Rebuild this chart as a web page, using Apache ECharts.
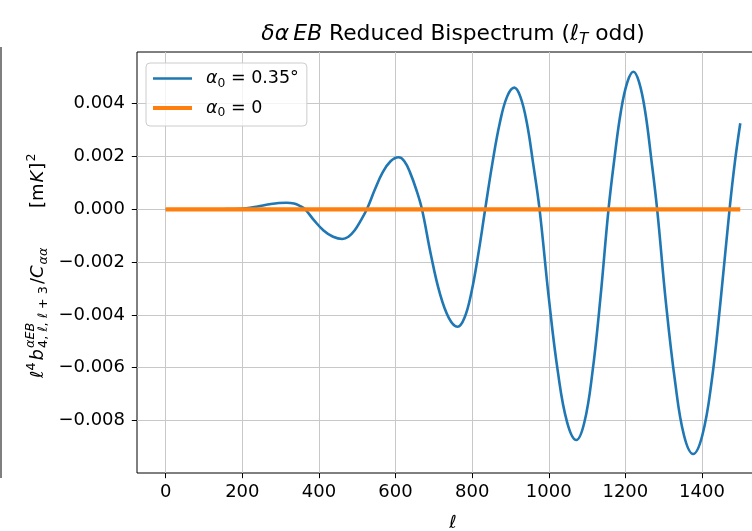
<!DOCTYPE html>
<html>
<head>
<meta charset="utf-8">
<script src="https://cdn.jsdelivr.net/npm/echarts@6/dist/echarts.min.js"></script>
<style>
html,body{margin:0;padding:0;background:#fff;}
#chart{width:752px;height:531px;}
</style>
</head>
<body>
<div id="chart"></div>
<script>
// ---- data ----
const ells = [0, 50, 100, 150, 180, 210, 240, 270, 295, 315, 335, 350, 364,
  388, 412, 437, 461, 477, 493, 509, 525,
  546, 566, 587, 608, 623, 638, 654, 669,
  692, 715, 739, 762, 780, 798, 816, 834,
  853, 872, 891, 910, 926, 943, 959, 976,
  1000, 1024, 1048, 1072, 1093, 1114, 1135, 1156,
  1172, 1188, 1205, 1221, 1236, 1252, 1267, 1283,
  1306, 1330, 1353, 1377, 1401, 1425, 1448, 1472, 1486, 1500];
const bisp035 = [0, 0, 0, 0.000005, 0.00001, 0.00004, 0.00011, 0.00019, 0.00024, 0.00025, 0.00022, 0.00013, 0,
  -0.00043, -0.00080, -0.00104, -0.001125, -0.00104, -0.00080, -0.00043, 0,
  0.00075, 0.00139, 0.00182, 0.00197, 0.00182, 0.00139, 0.00075, 0,
  -0.00170, -0.00315, -0.00411, -0.00445, -0.00411, -0.00315, -0.00170, 0,
  0.00176, 0.00326, 0.00426, 0.00461, 0.00426, 0.00326, 0.00176, 0,
  -0.00334, -0.00618, -0.00807, -0.00874, -0.00807, -0.00618, -0.00334, 0,
  0.00199, 0.00368, 0.00481, 0.00521, 0.00481, 0.00368, 0.00199, 0,
  -0.00355, -0.00655, -0.00856, -0.00927, -0.00856, -0.00655, -0.00355, 0, 0.0018, 0.00326];
const zeroEll = [0, 1500];
const zeroVal = [0, 0];
const xTicks = [0, 200, 400, 600, 800, 1000, 1200, 1400];
const yTicks = [-0.008, -0.006, -0.004, -0.002, 0, 0.002, 0.004];
const seriesNames = ['a035', 'a0'];

const FF = '"DejaVu Sans"';
const FS = 18, SS = 12.8;
const ctx = document.createElement('canvas').getContext('2d');
function fontStr(p){ return (p.it ? 'italic ' : 'normal ') + p.fs + 'px ' + FF; }
function measure(p){ ctx.font = fontStr(p); return ctx.measureText(p.t).width; }
function txt(p, x){
  return {type:'text', x: x, y: (p.dy || 0) - 0.3 * p.fs, silent:true,
    style:{text:p.t, font:fontStr(p), fontSize:p.fs, fontFamily:'DejaVu Sans', fontStyle:p.it?'italic':'normal',
      fill:'#000', align:'left', verticalAlign:'middle', textAlign:'left', textVerticalAlign:'middle'}};
}
function buildRun(pieces){
  let x = 0; const children = [];
  pieces.forEach(p => {
    if (p.pre) x += p.pre;
    if (p.stack){ let wm = 0; p.stack.forEach(q => { children.push(txt(q, x)); wm = Math.max(wm, measure(q)); }); x += wm; }
    else { children.push(txt(p, x)); x += measure(p); }
    if (p.gap) x += p.gap;
  });
  return {children, width: x};
}

const titleRun = buildRun([
  {t:'δα\u2009EB', fs:21.8, it:true},
  {t:' Reduced Bispectrum (', fs:21.8},
  {t:'ℓ', fs:21.8, it:true},
  {t:'T', fs:15.2, it:true, dy:4},
  {t:' odd)', fs:21.8}
]);
const ylab1 = buildRun([
  {t:'ℓ', fs:FS, it:true},
  {t:'4', fs:SS, dy:-7.5, gap:2},
  {t:'b', fs:FS, it:true, gap:1},
  {stack:[{t:'αEB', fs:SS, it:true, dy:-8.5}, {t:'4, ℓ, ℓ + 3', fs:SS, dy:4.5}], gap:2},
  {t:'/', fs:FS},
  {t:'C', fs:FS, it:true, gap:1},
  {t:'αα', fs:SS, it:true, dy:4.5}
]);
const ylab2 = buildRun([
  {t:'[m', fs:FS, gap:1},
  {t:'K', fs:FS, it:true, gap:1},
  {t:']', fs:FS, gap:1},
  {t:'2', fs:SS, dy:-8}
]);

const legendIconBlue = 'path://M0,0L0.001,0L0,0Z M0,5.7L39,5.7L39,8.3L0,8.3Z M0,14L0.001,14L0,14Z';
const legendIconOrange = 'path://M0,0L0.001,0L0,0Z M0,4.9L39,4.9L39,9.1L0,9.1Z M0,14L0.001,14L0,14Z';

const chart = echarts.init(document.getElementById('chart'), null, {renderer:'canvas'});
const labelStyle = {color:'#000', fontSize:FS, fontFamily:'DejaVu Sans'};
chart.setOption({
  animation:false,
  backgroundColor:'#fff',
  grid:{left:137, top:52, width:632, height:421, show:true, borderColor:'#000', borderWidth:1,
        backgroundColor:'transparent', containLabel:false, outerBoundsMode:'none'},
  legend:{
    orient:'vertical', left:146, top:63, selectedMode:false,
    data:[{name:seriesNames[0], icon:legendIconBlue, itemStyle:{color:'#1f77b4', borderWidth:0}},
          {name:seriesNames[1], icon:legendIconOrange, itemStyle:{color:'#ff7f0e', borderWidth:0}}],
    itemWidth:39, itemHeight:14, itemGap:7.5,
    padding:[4.5, 8, 7, 7],
    backgroundColor:'rgba(255,255,255,0.8)', borderColor:'#cccccc', borderWidth:1, borderRadius:4,
    formatter: n => n === 'a035' ? '{i|α}{s|0} = 0.35°' : '{i|α}{s|0} = 0',
    textStyle:{color:'#000', fontSize:17.5, fontFamily:'DejaVu Sans', lineHeight:22, padding:[0,0,0,9],
      rich:{
        i:{fontStyle:'italic', fontSize:17.5, fontFamily:'DejaVu Sans', color:'#000', lineHeight:22},
        s:{fontSize:12.3, fontFamily:'DejaVu Sans', color:'#000', verticalAlign:'bottom', lineHeight:13}
      }}
  },
  xAxis:{
    type:'value', min:-75, max:1575,
    axisLine:{show:false, onZero:false},
    axisTick:{show:true, length:5.2, lineStyle:{color:'#000', width:1}, customValues:xTicks},
    axisLabel:Object.assign({customValues:xTicks, margin:10.5, formatter: v => String(v)}, labelStyle),
    splitLine:{show:true, lineStyle:{color:'#c8c8c8', width:1}},
    name:'ℓ', nameLocation:'middle', nameGap:41,
    nameTextStyle:{color:'#000', fontSize:FS, fontStyle:'italic', fontFamily:'DejaVu Sans'}
  },
  yAxis:{
    type:'value', min:-0.00999, max:0.00596,
    axisLine:{show:false, onZero:false},
    axisTick:{show:true, length:5.2, lineStyle:{color:'#000', width:1}, customValues:yTicks},
    axisLabel:Object.assign({customValues:yTicks, margin:12,
      formatter: v => (v < 0 ? '\u2212' : '') + Math.abs(v).toFixed(3)}, labelStyle),
    splitLine:{show:true, lineStyle:{color:'#c8c8c8', width:1}}
  },
  series:[
    {name:seriesNames[0], type:'line', data: ells.map((e,i)=>[e, bisp035[i]]),
     symbol:'none', smooth:0.4, lineStyle:{color:'#1f77b4', width:2.6}, itemStyle:{color:'#1f77b4'}, z:2},
    {name:seriesNames[1], type:'line', data: zeroEll.map((e,i)=>[e, zeroVal[i]]),
     symbol:'none', lineStyle:{color:'#ff7f0e', width:4.2}, itemStyle:{color:'#ff7f0e'}, z:3}
  ],
  graphic:[
    {type:'group', x: 453 - titleRun.width/2, y: 41, children: titleRun.children, silent:true},
    {type:'group', x: 43.5, y: 378, rotation: Math.PI/2, children: ylab1.children, silent:true},
    {type:'group', x: 43.5, y: 208, rotation: Math.PI/2, children: ylab2.children, silent:true},
    {type:'line', shape:{x1:1, y1:47, x2:1, y2:478}, style:{stroke:'#555', lineWidth:1.5}, silent:true}
  ]
});
</script>
</body>
</html>
